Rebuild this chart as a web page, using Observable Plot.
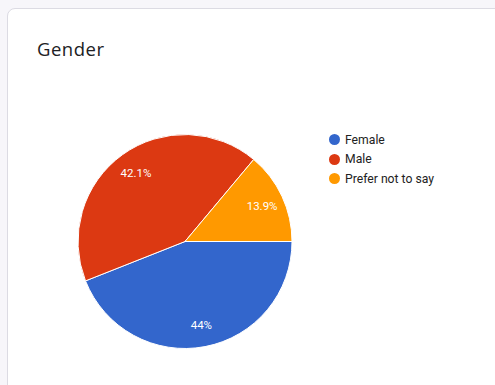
<!DOCTYPE html>
<html>
<head>
<meta charset="utf-8">
<script src="https://cdn.jsdelivr.net/npm/d3@7"></script>
<script src="https://cdn.jsdelivr.net/npm/@observablehq/plot@0.6"></script>
<style>
  html, body { margin: 0; padding: 0; }
  body { width: 495px; height: 385px; overflow: hidden; background: #f7f6fa; position: relative; font-family: Roboto, "Open Sans", Arial, sans-serif; }
  #card { position: absolute; left: 7px; top: 8px; width: 520px; height: 420px; background: #fff; border: 1.5px solid #dcdbe3; border-radius: 8px; box-sizing: border-box; }
  #title { position: absolute; left: 37px; top: 36px; font-family: "Open Sans", Roboto, sans-serif; font-size: 18.5px; color: #202124; letter-spacing: 0.5px; }
  #chart { position: absolute; left: 0; top: 0; }
  #legend { position: absolute; left: 329px; top: 130px; font-family: Roboto, Arial, sans-serif; font-size: 12.2px; color: #222; }
  #legend .item { display: flex; align-items: center; height: 19.5px; }
  #legend .sw { width: 11px; height: 11px; border-radius: 50%; margin-right: 5px; }
</style>
</head>
<body>
<div id="card"></div>
<div id="title">Gender</div>
<div id="chart"></div>
<div id="legend"></div>
<script>
const categories = ["Female", "Male", "Prefer not to say"];
const values = [44, 42.1, 13.9];
const labels = ["44%", "42.1%", "13.9%"];
const colors = ["#3366cc", "#dc3912", "#ff9900"];

const data = categories.map((c, i) => ({category: c, value: values[i], label: labels[i]}));

const pie = d3.pie().value(d => d.value).sort(null)
  .startAngle(Math.PI / 2).endAngle(Math.PI / 2 + 2 * Math.PI);
const arcs = pie(data);

// label positions in data units (unit radius)
const labelArc = d3.arc().innerRadius(0.58).outerRadius(1);
const labelData = arcs.map(a => {
  const [cx, cy] = labelArc.centroid(a);
  return {label: a.data.label, x: cx, y: -cy};
});

const color = d3.scaleOrdinal().domain(categories).range(colors);

function pieMark(index, scales, values, dimensions) {
  const sx = scales.x, sy = scales.y;
  const cx = sx(0), cy = sy(0);
  const r = Math.abs(sx(1) - sx(0));
  const arc = d3.arc().innerRadius(0).outerRadius(r);
  const g = d3.create("svg:g").attr("transform", `translate(${cx},${cy})`);
  g.selectAll("path").data(arcs).join("path")
    .attr("d", arc)
    .attr("fill", d => color(d.data.category))
    .attr("stroke", "#fff")
    .attr("stroke-width", 1);
  return g.node();
}

const chart = Plot.plot({
  width: 495,
  height: 385,
  margin: 0,
  style: {background: "transparent", overflow: "visible"},
  x: {domain: [-1, 1], range: [78, 292], axis: null},
  y: {domain: [-1, 1], range: [348.5, 134.5], axis: null},
  marks: [
    pieMark,
    Plot.text(labelData, {x: "x", y: "y", text: "label", fill: "#fff", fontSize: 11.5, fontFamily: "Roboto, Arial, sans-serif"})
  ]
});
document.getElementById("chart").appendChild(chart);

const legend = d3.select("#legend");
categories.forEach((c, i) => {
  const item = legend.append("div").attr("class", "item");
  item.append("div").attr("class", "sw").style("background", color(c));
  item.append("span").text(c);
});
</script>
</body>
</html>
